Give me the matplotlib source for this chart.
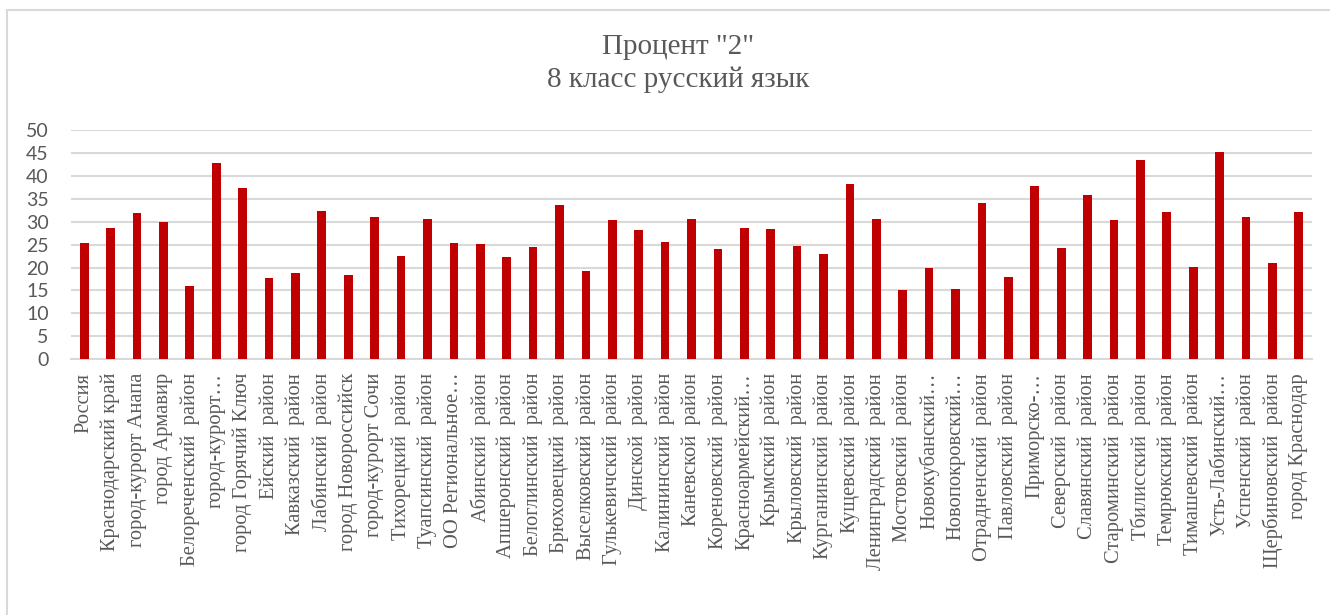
import matplotlib.pyplot as plt

categories = [
    "Россия", "Краснодарский край", "город-курорт Анапа", "город Армавир",
    "Белореченский  район", "город-курорт…", "город Горячий Ключ",
    "Ейский  район", "Кавказский  район", "Лабинский  район",
    "город Новороссийск", "город-курорт Сочи", "Тихорецкий  район",
    "Туапсинский  район", "ОО Региональное…", "Абинский  район",
    "Апшеронский  район", "Белоглинский  район", "Брюховецкий  район",
    "Выселковский  район", "Гулькевичский  район", "Динской  район",
    "Калининский  район", "Каневской  район", "Кореновский  район",
    "Красноармейский…", "Крымский  район", "Крыловский  район",
    "Курганинский  район", "Кущевский  район", "Ленинградский  район",
    "Мостовский  район", "Новокубанский…", "Новопокровский…",
    "Отрадненский  район", "Павловский  район", "Приморско-…",
    "Северский  район", "Славянский  район", "Староминский  район",
    "Тбилисский  район", "Темрюкский  район", "Тимашевский  район",
    "Усть-Лабинский…", "Успенский  район", "Щербиновский  район",
    "город Краснодар",
]

percent_2 = [
    25.4, 28.7, 31.9, 30.0, 16.0, 42.9, 37.4, 17.7, 18.8, 32.4,
    18.4, 31.0, 22.5, 30.7, 25.4, 25.2, 22.3, 24.5, 33.7, 19.3,
    30.3, 28.1, 25.5, 30.5, 24.1, 28.6, 28.4, 24.6, 22.9, 38.2,
    30.6, 15.0, 20.0, 15.4, 34.2, 17.9, 37.8, 24.2, 35.9, 30.3,
    43.5, 32.1, 20.2, 45.2, 31.1, 21.0, 32.1,
]

yticks = list(range(0, 55, 5))

plt.rcParams["font.family"] = ["Liberation Serif", "DejaVu Serif"]
text_color = "#595959"
grid_color = "#d9d9d9"

fig = plt.figure(figsize=(13.3, 6.15), dpi=100)
ax = fig.add_axes([71 / 1330, 1 - 359 / 615, (1312 - 71) / 1330, (359 - 130.3) / 615])

x = list(range(len(categories)))
ax.bar(x, percent_2, width=0.33, color="#c00000", zorder=3)

ax.set_xlim(-0.5, len(categories) - 0.5)
ax.set_ylim(0, 50)
ax.set_yticks(yticks)
ax.set_yticklabels([str(v) for v in yticks], fontsize=14, color=text_color,
                   family=["Lato", "DejaVu Sans"])
ax.set_xticks(x)
ax.set_xticklabels(categories, rotation=90, fontsize=14.8, color=text_color)
ax.tick_params(axis="both", length=0)
ax.tick_params(axis="y", pad=16)
ax.tick_params(axis="x", pad=10)

ax.grid(axis="y", color=grid_color, linewidth=1.5, zorder=0)
for side in ["top", "right", "left"]:
    ax.spines[side].set_visible(False)
ax.spines["bottom"].set_color(grid_color)
ax.spines["bottom"].set_linewidth(1.5)

fig.text(0.51, 1 - 47 / 615, 'Процент "2"', ha="center", va="center",
         fontsize=21, color=text_color)
fig.text(0.51, 1 - 80 / 615, "8 класс русский язык", ha="center", va="center",
         fontsize=21, color=text_color)

# light frame around the chart area (Excel chart border)
fig.patches.append(plt.Rectangle((7 / 1330, -0.05), 1.1, 1 - 10 / 615 + 0.05,
                                 transform=fig.transFigure, fill=False,
                                 edgecolor=grid_color, linewidth=1.5))

fig.savefig("out.png", dpi=100)
